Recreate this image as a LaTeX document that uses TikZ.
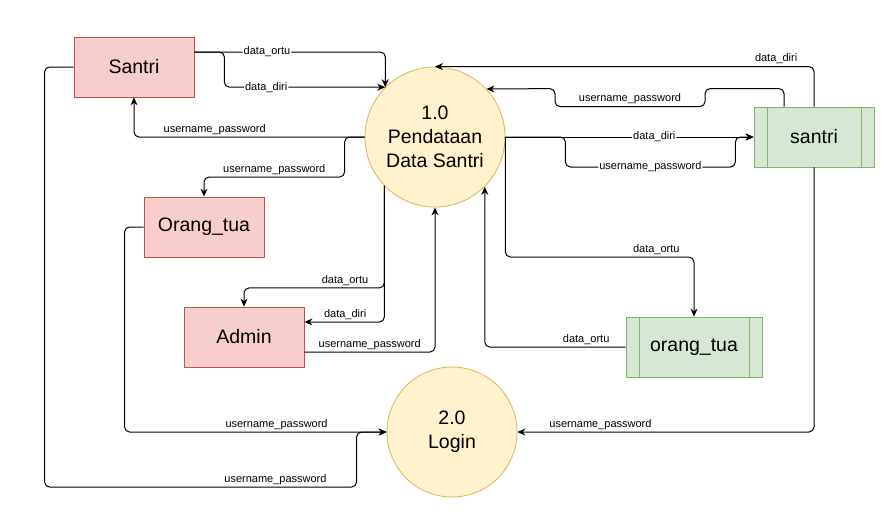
\documentclass[tikz,border=0pt]{standalone}
\usepackage{fontspec}
\setmainfont{Liberation Sans}
\usetikzlibrary{arrows.meta}
\definecolor{entfill}{HTML}{F8CECC}
\definecolor{entline}{HTML}{B85450}
\definecolor{procfill}{HTML}{FFF2CC}
\definecolor{procline}{HTML}{D6B656}
\definecolor{storefill}{HTML}{D5E8D4}
\definecolor{storeline}{HTML}{82B366}

\begin{document}
\begin{tikzpicture}[x=1pt, y=-1pt,
	entity/.style={rectangle, draw=entline, fill=entfill, line width=0.8pt, minimum width=120pt, minimum height=60pt, font=\fontsize{19.5}{24}\selectfont},
	process/.style={circle, draw=procline, fill=procfill, line width=0.8pt, inner sep=0pt, align=center, font=\fontsize{19.5}{24}\selectfont},
	store/.style={rectangle, draw=storeline, fill=storefill, line width=0.8pt, minimum height=60pt, font=\fontsize{19.5}{24}\selectfont,
		path picture={\draw[storeline, line width=0.8pt] ([xshift=13pt]path picture bounding box.north west) -- ([xshift=13pt]path picture bounding box.south west)
			([xshift=-13pt]path picture bounding box.north east) -- ([xshift=-13pt]path picture bounding box.south east);}},
	flow/.style={draw, line width=1pt, rounded corners=5pt, -{Stealth[length=8pt,width=7pt]}},
	onlbl/.style={fill=white, inner sep=1pt, font=\fontsize{11}{13}\selectfont},
	uplbl/.style={above, inner sep=2pt, font=\fontsize{11}{13}\selectfont}]
	\useasboundingbox (0,0) rectangle (891,514);
	\node[entity] (santri) at (134,67) {Santri};
	\node[entity] (ortu) at (204,227) {Orang\_tua};
	\node[entity] (admin) at (244,337) {Admin};
	\node[process, minimum size=140pt] (p1) at (435,137) {1.0\\Pendataan\\Data Santri};
	\node[process, minimum size=130pt] (p2) at (452,432) {2.0\\Login};
	\node[store, minimum width=120pt] (dsantri) at (814,137) {santri};
	\node[store, minimum width=136pt] (dortu) at (694,347) {orang\_tua};
	
	\draw[flow] ([yshift=15pt]santri.east) -- node[onlbl, pos=.38]{data\_ortu} ++(191,0) -- (p1.135);
	\draw[flow] ([yshift=15pt]santri.east) -- ++(30,0) |- node[onlbl, pos=.63]{data\_diri} (p1.135);
	\draw[flow] (p1.west) -| node[uplbl, pos=.325]{username\_password} (santri.south);
	\draw[flow] (p1.west) -- ++(-20,0) -- ++(0,40) -| node[uplbl, pos=.25]{username\_password} (ortu.north);
	\draw[flow] (p1.224) -- ++(0,102) -| node[uplbl, pos=.14]{data\_ortu} (admin.north);
	\draw[flow] (p1.224) |- node[uplbl, pos=.745]{data\_diri} ([yshift=15pt]admin.east);
	\draw[flow] ([yshift=-15pt]admin.east) -| node[uplbl, pos=.25]{username\_password} (p1.south);
	\draw[flow] (dortu.west) -| node[uplbl, pos=.14]{data\_ortu} (p1.-45);
	\draw[flow] (p1.east) -- ++(0,120) -| node[uplbl, pos=.4]{data\_ortu} (dortu.north);
	\draw[flow] (p1.east) -- node[onlbl, pos=.6]{data\_diri} (dsantri.west);
	\draw[flow] (p1.east) -- ++(60,0) -- ++(0,30) -- node[onlbl]{username\_password} ++(170,0) -- ++(0,-30) -- (dsantri.west);
	\draw[flow] ([xshift=-30pt]dsantri.north) -- ++(0,-18) -- ++(-79,0) -- ++(0,18) -- node[uplbl]{username\_password} ++(-150,0) -- ++(0,-18) -- (p1.43);
	\draw[flow] (dsantri.north) -- ++(0,-40) -- node[uplbl, pos=.1]{data\_diri} (p1.north);
	\draw[flow] (dsantri.south) |- node[uplbl, pos=.86]{username\_password} (p2.east);
	\draw[flow] (ortu.west) -- ++(-19,0) |- node[uplbl, pos=.79]{username\_password} (p2.west);
	\draw[flow] (santri.west) -- ++(-29,0) -- ++(0,420) -- node[uplbl, pos=.74]{username\_password} ++(312,0) |- (p2.west);
\end{tikzpicture}
\end{document}
